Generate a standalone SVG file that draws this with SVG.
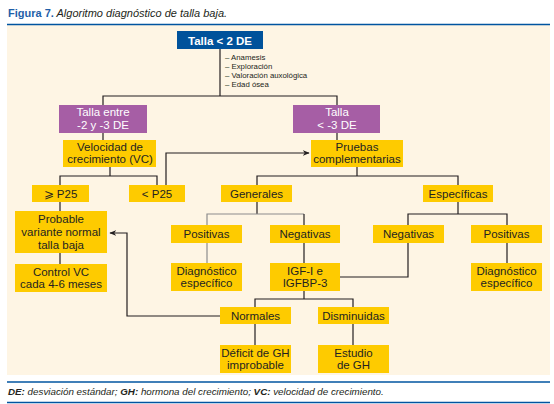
<svg xmlns="http://www.w3.org/2000/svg" width="554" height="404" viewBox="0 0 554 404">
<style>
text{font-family:"Liberation Sans","Noto Sans",sans-serif;fill:#231f20;font-size:11.5px;text-anchor:middle}
.y{fill:#fecb00}
.p{fill:#a65ea5}
.w{fill:#fff}
.c line,.c polyline{stroke:#231f20;stroke-width:1.2;fill:none}
.c .g{stroke:#8c8c8c}
.note{font-size:7.8px;text-anchor:start}
.foot{font-size:9.8px;font-style:italic;text-anchor:start}
</style>
<defs>
<marker id="ar" viewBox="0 0 10 10" refX="9" refY="5" markerWidth="7" markerHeight="7" orient="auto" markerUnits="userSpaceOnUse">
<path d="M0,1 L10,5 L0,9 L3,5 Z" fill="#231f20"/>
</marker>
</defs>
<rect x="0" y="0" width="554" height="404" fill="#fff"/>
<text x="8" y="17" style="text-anchor:start;font-size:11px"><tspan font-weight="bold" fill="#1f5fa8">Figura 7.</tspan><tspan font-style="italic"> Algoritmo diagnóstico de talla baja.</tspan></text>
<rect x="7" y="25" width="543" height="350" fill="#fef5e4"/>
<line x1="7" y1="24.5" x2="550" y2="24.5" stroke="#0054a0" stroke-width="1.5"/>
<line x1="7" y1="382" x2="550" y2="382" stroke="#0054a0" stroke-width="1.5"/>
<line x1="7" y1="402.5" x2="550" y2="402.5" stroke="#0054a0" stroke-width="1.5"/>
<text class="foot" x="8" y="395"><tspan font-weight="bold">DE:</tspan> desviación estándar; <tspan font-weight="bold">GH:</tspan> hormona del crecimiento; <tspan font-weight="bold">VC:</tspan> velocidad de crecimiento.</text>

<g class="c" id="connectors">
<line x1="220" y1="49" x2="220" y2="96"/>
<polyline points="103,105 103,96 337,96 337,105"/>
<line x1="103" y1="133" x2="103" y2="140"/>
<line x1="337" y1="133" x2="337" y2="140"/>
<polyline points="110,167 110,176"/>
<polyline points="60,185 60,176 157,176 157,185"/>
<polyline points="166,185 166,153 309,153" marker-end="url(#ar)"/>
<line x1="60" y1="202" x2="60" y2="211"/>
<line x1="60" y1="253" x2="60" y2="264"/>
<polyline points="220,316 127,316 127,233 110,233" marker-end="url(#ar)"/>
<line x1="357" y1="167" x2="357" y2="176"/>
<polyline points="257,185 257,176 458,176 458,185"/>
<line x1="257" y1="202" x2="257" y2="214"/>
<polyline class="g" points="207,225 207,214 304,214"/>
<line x1="304" y1="214" x2="304" y2="225"/>
<line class="g" x1="207" y1="243" x2="207" y2="263"/>
<line x1="304" y1="243" x2="304" y2="263"/>
<line x1="458" y1="202" x2="458" y2="214"/>
<polyline points="408,225 408,214 507,214 507,225"/>
<polyline points="340,277 408,277 408,243"/>
<line x1="507" y1="243" x2="507" y2="263"/>
<line x1="304" y1="291" x2="304" y2="299"/>
<polyline points="255,307 255,299 353,299 353,307"/>
<line x1="255" y1="324" x2="255" y2="345"/>
<line x1="353" y1="324" x2="353" y2="345"/>
</g>

<g id="talla2">
<rect x="177" y="31" width="86" height="18" fill="#00529b"/>
<text class="w" x="220" y="44.5" font-weight="bold" font-size="12">Talla &lt; 2 DE</text>
</g>
<g id="notes">
<text class="note" x="225" y="60">– Anamesis</text>
<text class="note" x="225" y="69">– Exploración</text>
<text class="note" x="225" y="78">– Valoración auxológica</text>
<text class="note" x="225" y="87">– Edad ósea</text>
</g>
<g id="tallaEntre">
<rect class="p" x="59" y="105" width="88" height="28"/>
<text class="w" x="103" y="116" font-size="12">Talla entre</text>
<text class="w" x="103" y="129" font-size="12">-2 y -3 DE</text>
</g>
<g id="tallaMenos3">
<rect class="p" x="293" y="105" width="87" height="28"/>
<text class="w" x="337" y="116" font-size="12">Talla</text>
<text class="w" x="337" y="129" font-size="12">&lt; -3 DE</text>
</g>
<g id="velocidad">
<rect class="y" x="63" y="140" width="93" height="27"/>
<text x="110" y="150.5">Velocidad de</text>
<text x="110" y="163">crecimiento (VC)</text>
</g>
<g id="pruebas">
<rect class="y" x="311" y="140" width="92" height="27"/>
<text x="357" y="150.5">Pruebas</text>
<text x="357" y="163">complementarias</text>
</g>
<g id="mayorP25">
<rect class="y" x="32" y="185" width="57" height="17"/>
<text x="60.5" y="197.5">⩾ P25</text>
</g>
<g id="menorP25">
<rect class="y" x="129" y="185" width="56" height="17"/>
<text x="157" y="197.5">&lt; P25</text>
</g>
<g id="generales">
<rect class="y" x="221" y="185" width="71" height="17"/>
<text x="256.5" y="197.5">Generales</text>
</g>
<g id="especificas">
<rect class="y" x="423" y="185" width="70" height="17"/>
<text x="458" y="197.5">Específicas</text>
</g>
<g id="probable">
<rect class="y" x="15" y="211" width="92" height="42"/>
<text x="61" y="223">Probable</text>
<text x="61" y="236">variante normal</text>
<text x="61" y="248.5">talla baja</text>
</g>
<g id="controlVC">
<rect class="y" x="15" y="264" width="92" height="28"/>
<text x="61" y="276">Control VC</text>
<text x="61" y="288">cada 4-6 meses</text>
</g>
<g id="positivasG">
<rect class="y" x="171" y="225" width="71" height="18"/>
<text x="206.5" y="238">Positivas</text>
</g>
<g id="negativasG">
<rect class="y" x="270" y="225" width="70" height="18"/>
<text x="305" y="238">Negativas</text>
</g>
<g id="negativasE">
<rect class="y" x="373" y="225" width="71" height="18"/>
<text x="408.5" y="238">Negativas</text>
</g>
<g id="positivasE">
<rect class="y" x="471" y="225" width="71" height="18"/>
<text x="506.5" y="238">Positivas</text>
</g>
<g id="diagG">
<rect class="y" x="171" y="263" width="71" height="28"/>
<text x="206.5" y="274.5">Diagnóstico</text>
<text x="206.5" y="286.5">específico</text>
</g>
<g id="igf">
<rect class="y" x="270" y="263" width="70" height="28"/>
<text x="305" y="274.5">IGF-I e</text>
<text x="305" y="286.5">IGFBP-3</text>
</g>
<g id="diagE">
<rect class="y" x="471" y="263" width="71" height="28"/>
<text x="506.5" y="274.5">Diagnóstico</text>
<text x="506.5" y="286.5">específico</text>
</g>
<g id="normales">
<rect class="y" x="220" y="307" width="71" height="17"/>
<text x="255.5" y="319.5">Normales</text>
</g>
<g id="disminuidas">
<rect class="y" x="318" y="307" width="71" height="17"/>
<text x="353.5" y="319.5">Disminuidas</text>
</g>
<g id="deficit">
<rect class="y" x="220" y="345" width="71" height="28"/>
<text x="255.5" y="356.5">Déficit de GH</text>
<text x="255.5" y="368.5">improbable</text>
</g>
<g id="estudio">
<rect class="y" x="318" y="345" width="71" height="28"/>
<text x="353.5" y="356.5">Estudio</text>
<text x="353.5" y="368.5">de GH</text>
</g>
</svg>
